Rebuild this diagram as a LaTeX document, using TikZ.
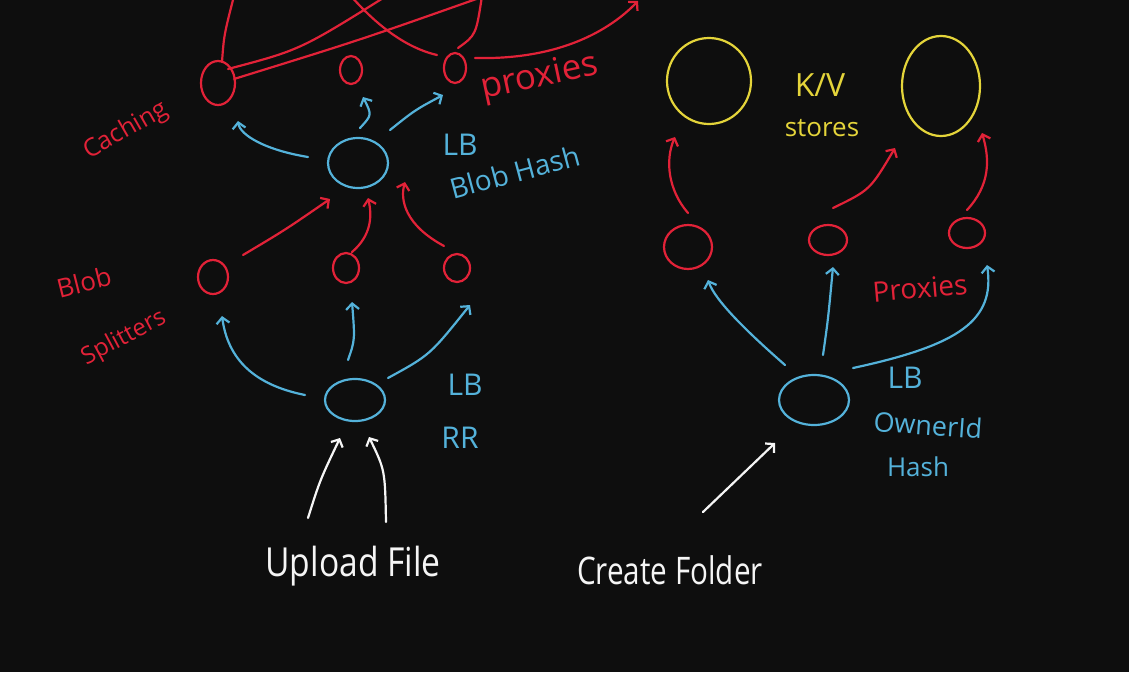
\documentclass[tikz,border=0pt]{standalone}
\usepackage{fontspec}
\setmainfont{Open Sans}
\usetikzlibrary{shapes.geometric,arrows.meta,calc}
\definecolor{bg}{RGB}{14,14,14}
\definecolor{rd}{RGB}{226,34,56}
\definecolor{bl}{RGB}{84,178,218}
\definecolor{yl}{RGB}{228,212,58}
\definecolor{wh}{RGB}{245,245,245}
\newcommand\hsz[1]{\fontsize{#1}{#1}\selectfont}
\begin{document}
\begin{tikzpicture}[x=1pt,y=-1pt,
  ink/.style={line width=2.2pt,line cap=round,line join=round},
  arr/.style={ink,-{Straight Barb[length=6pt,width=13pt,line width=2.2pt]}},
  blob/.style={ellipse,draw,ink,inner sep=0pt},
  txt/.style={inner sep=0pt,anchor=center}]
\fill[bg] (0,0) rectangle (1129,672);
\useasboundingbox (0,0) rectangle (1129,672);
\clip (0,0) rectangle (1129,672);

% ---------- left: upload path ----------
\node[blob,rd,minimum width=34pt,minimum height=44pt] (cache) at (218,83) {};
\node[blob,rd,minimum width=22pt,minimum height=28pt] (pm) at (351,70) {};
\node[blob,rd,minimum width=22pt,minimum height=30pt] (pr) at (455,68) {};
\node[blob,bl,minimum width=60pt,minimum height=50pt] (lbh) at (358,163) {};
\node[blob,rd,minimum width=30pt,minimum height=34pt] (s1) at (213,277) {};
\node[blob,rd,minimum width=26pt,minimum height=30pt] (s2) at (346,268) {};
\node[blob,rd,minimum width=26pt,minimum height=28pt] (s3) at (457,268) {};
\node[blob,bl,minimum width=60pt,minimum height=42pt] (rr) at (355,400) {};

% ---------- right: create folder path ----------
\node[blob,yl,minimum width=84pt,minimum height=86pt] (y1) at (709,81) {};
\node[blob,yl,minimum width=78pt,minimum height=100pt] (y2) at (941,86) {};
\node[blob,rd,minimum width=48pt,minimum height=44pt] (q1) at (688,247) {};
\node[blob,rd,minimum width=38pt,minimum height=30pt] (q2) at (828,240) {};
\node[blob,rd,minimum width=36pt,minimum height=30pt] (q3) at (967,233) {};
\node[blob,bl,minimum width=70pt,minimum height=50pt] (own) at (814,400) {};

% ---------- labels ----------
\node[txt,rd,rotate=30] (tcach) at (126,131) {\hsz{25}Caching};
\node[txt,rd,rotate=12] (tprox) at (540,78) {\hsz{35}proxies};
\node[txt,bl] (tlb1) at (460,145) {\hsz{30}LB};
\node[txt,bl,rotate=15] (tbh) at (515,172) {\hsz{28}Blob Hash};
\node[txt,rd,rotate=14] (tblob) at (84,282) {\hsz{26}Blob};
\node[txt,rd,rotate=28] (tspl) at (124,338) {\hsz{24}Splitters};
\node[txt,bl] (tlb2) at (465,385) {\hsz{30}LB};
\node[txt,bl] (trr) at (460,438) {\hsz{30}RR};
\node[txt,yl] (tkv) at (820,85) {\hsz{32}K/V};
\node[txt,yl] (tst) at (822,128) {\hsz{26}stores};
\node[txt,rd,rotate=5] (tprx) at (920,288) {\hsz{28}Proxies};
\node[txt,bl] (tlb3) at (905,378) {\hsz{30}LB};
\node[txt,bl,rotate=-4] (town) at (928,425) {\hsz{27}OwnerId};
\node[txt,bl] (thash) at (918,467) {\hsz{26}Hash};
\node[txt,wh,xscale=0.84] (up) at (353,566) {\hsz{40}Upload File};
\node[txt,wh,xscale=0.78] (cf) at (670,570) {\hsz{38}Create Folder};

% ---------- free ends above the top edge ----------
\coordinate (t1) at (234,-4);
\coordinate (t2) at (388,-5);
\coordinate (t3) at (482,-3);
\coordinate (t4) at (350,-5);
\coordinate (t5) at (482,-4);
\coordinate (t6) at (638,1);

% ---------- top red strokes ----------
\draw[ink,rd] ($(cache)+(4,-21)$) .. controls (224,35) .. (t1);
\draw[ink,rd] ($(cache)+(10,-14)$) .. controls (300,50) .. (t2);
\draw[ink,rd] ($(cache)+(16,-4)$) .. controls (360,40) .. (t3);
\draw[ink,rd] (t4) .. controls (385,35) and (415,50) .. ($(pr)+(-18,-13)$);
\draw[ink,rd] ($(pr)+(3,-20)$) .. controls (476,35) .. (t5);
\draw[arr,rd] ($(pr)+(20,-10)$) .. controls (560,60) and (610,30) .. (t6);

% ---------- upload arrows ----------
\draw[arr,wh] ($(up)+(-45,-48)$) .. controls (320,480) .. ($(rr)+(-15,38)$);
\draw[arr,wh] ($(up)+(33,-44)$) .. controls (385,470) .. ($(rr)+(14,37)$);
\draw[arr,bl] ($(rr)+(-50,-5)$) .. controls (255,385) and (228,360) .. ($(s1)+(9,39)$);
\draw[arr,bl] ($(rr)+(-7,-40)$) .. controls (355,340) .. ($(s2)+(6,34)$);
\draw[arr,bl] ($(rr)+(33,-22)$) .. controls (430,355) .. ($(s3)+(13,37)$);
\draw[arr,rd] ($(s1)+(30,-22)$) .. controls (285,230) .. ($(lbh)+(-28,36)$);
\draw[arr,rd] ($(s2)+(6,-16)$) .. controls (372,235) and (372,215) .. ($(lbh)+(10,35)$);
\draw[arr,rd] ($(s3)+(-13,-22)$) .. controls (405,225) and (400,200) .. ($(lbh)+(47,19)$);
\draw[arr,bl] ($(lbh)+(-50,-6)$) .. controls (265,150) and (240,135) .. ($(cache)+(20,38)$);
\draw[arr,bl] ($(lbh)+(2,-35)$) .. controls (372,115) .. ($(pm)+(12,27)$);
\draw[arr,bl] ($(lbh)+(32,-33)$) .. controls (415,110) .. ($(pr)+(-12,27)$);

% ---------- create folder arrows ----------
\draw[arr,wh] ($(cf)+(33,-58)$) -- ($(own)+(-39,43)$);
\draw[arr,bl] ($(own)+(-29,-35)$) .. controls (745,330) and (715,300) .. ($(q1)+(20,33)$);
\draw[arr,bl] ($(own)+(9,-45)$) .. controls (828,320) .. ($(q2)+(5,27)$);
\draw[arr,bl] ($(own)+(39,-32)$) .. controls (960,345) and (995,320) .. ($(q3)+(20,32)$);
\draw[arr,rd] ($(q1)+(0,-34)$) .. controls (668,190) and (665,160) .. ($(y1)+(-34,56)$);
\draw[arr,rd] ($(q2)+(5,-32)$) .. controls (870,190) .. ($(y2)+(-46,62)$);
\draw[arr,rd] ($(q3)+(0,-23)$) .. controls (990,185) and (990,160) .. ($(y2)+(41,47)$);
\end{tikzpicture}
\end{document}
